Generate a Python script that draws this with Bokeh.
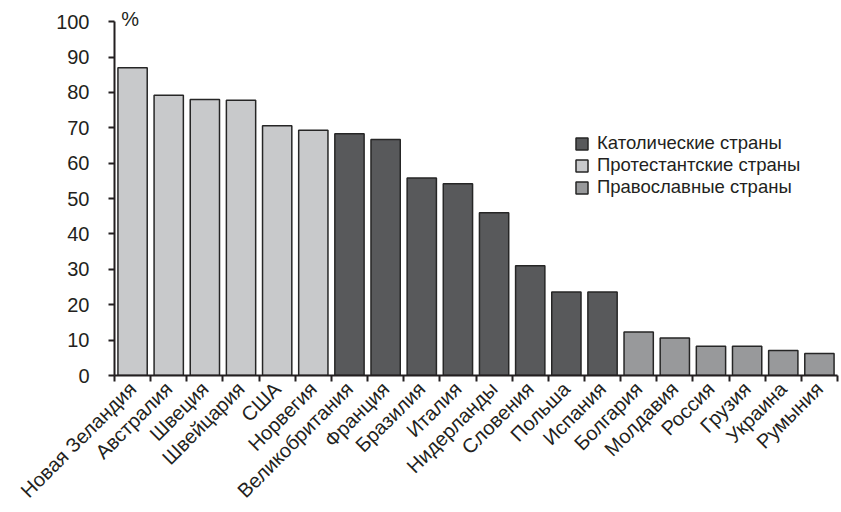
import math
from bokeh.plotting import figure
from bokeh.models import (ColumnDataSource, Range1d, FixedTicker, Legend, LegendItem, Label)
from bokeh.embed import file_html
from bokeh.resources import INLINE

countries = ["Новая Зеландия", "Австралия", "Швеция", "Швейцария", "США", "Норвегия",
             "Великобритания", "Франция", "Бразилия", "Италия", "Нидерланды", "Словения",
             "Польша", "Испания", "Болгария", "Молдавия", "Россия", "Грузия", "Украина", "Румыния"]
values = [87.0, 79.2, 78.0, 77.8, 70.6, 69.3,
          68.3, 66.7, 55.8, 54.2, 46.0, 31.0,
          23.6, 23.6, 12.3, 10.6, 8.3, 8.3, 7.1, 6.2]
groups = ["prot"] * 6 + ["cath"] * 8 + ["orth"] * 6

group_keys = ["cath", "prot", "orth"]
group_names = ["Католические страны", "Протестантские страны", "Православные страны"]
group_colors = {"cath": "#58595b", "prot": "#c8c9cb", "orth": "#98999b"}

y_ticks = [0, 10, 20, 30, 40, 50, 60, 70, 80, 90, 100]

FONT = "Liberation Sans"
TXT = "#231f20"

p = figure(width=840, height=512, output_backend="svg", toolbar_location=None,
           x_range=Range1d(0, len(countries)), y_range=Range1d(0, 104),
           min_border_left=114, min_border_right=3, min_border_top=7, min_border_bottom=136)
p.outline_line_color = None
p.grid.visible = False

items = []
for k, name in zip(group_keys, group_names):
    xs = [i + 0.5 for i, g in enumerate(groups) if g == k]
    ys = [v for v, g in zip(values, groups) if g == k]
    src = ColumnDataSource(dict(x=xs, top=ys))
    r = p.vbar(x="x", top="top", bottom=0, width=0.81, source=src,
               fill_color=group_colors[k], line_color="#262626", line_width=1.5)
    items.append(LegendItem(label=name, renderers=[r]))

legend = Legend(items=items, location=(460, 177), border_line_color=None,
                background_fill_alpha=0, padding=0, margin=0, spacing=0,
                glyph_width=15, glyph_height=15, label_height=15, label_standoff=8,
                label_text_font=FONT, label_text_font_size="18.5px", label_text_color=TXT)
p.add_layout(legend, "center")

# x axis
xt = FixedTicker(ticks=[i + 0.5 for i in range(len(countries))],
                 minor_ticks=list(range(len(countries) + 1)))
p.xaxis.ticker = xt
p.xaxis.major_label_overrides = {i + 0.5: c for i, c in enumerate(countries)}
p.xaxis.major_label_orientation = math.pi / 4
p.xaxis.major_tick_in = 0
p.xaxis.major_tick_out = 0
p.xaxis.minor_tick_in = 0
p.xaxis.minor_tick_out = 6
p.xaxis.minor_tick_line_width = 2
p.xaxis.minor_tick_line_color = TXT
p.xaxis.major_label_standoff = 4
p.xaxis.major_label_text_font = FONT
p.xaxis.major_label_text_font_size = "20px"
p.xaxis.major_label_text_color = TXT
p.xaxis.axis_line_width = 2
p.xaxis.axis_line_color = TXT

# y axis
p.yaxis.ticker = FixedTicker(ticks=y_ticks, minor_ticks=[])
p.yaxis.bounds = (0, 100)
p.yaxis.major_tick_in = 0
p.yaxis.major_tick_out = 6
p.yaxis.major_tick_line_width = 2
p.yaxis.major_tick_line_color = TXT
p.yaxis.major_label_standoff = 19
p.yaxis.major_label_text_font = FONT
p.yaxis.major_label_text_font_size = "20px"
p.yaxis.major_label_text_color = TXT
p.yaxis.axis_line_width = 2
p.yaxis.axis_line_color = TXT

p.add_layout(Label(x=0.19, y=100.7, text="%", text_font=FONT, text_font_size="20px",
                   text_color=TXT, text_baseline="alphabetic", text_align="left"))

open("out.html", "w").write(file_html(p, INLINE))
